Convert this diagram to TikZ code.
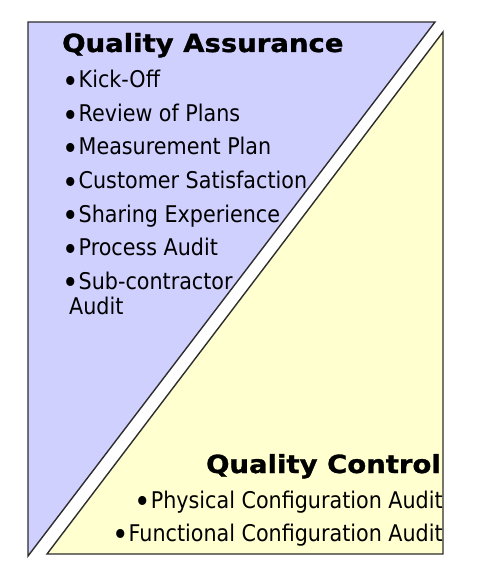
\documentclass[tikz,border=0pt]{standalone}
\usepackage{fontspec}
\setmainfont{DejaVu Sans Condensed}
\newfontfamily\headfont[FakeStretch=1.1,FakeBold=1.2]{DejaVu Sans Bold}
% enlarged bullet sitting at mid x-height, without extra depth
\newcommand\bul{\smash{\raisebox{-0.2em}{\scalebox{1.35}{•}}}}
\definecolor{qablue}{RGB}{208,208,255}
\definecolor{qcyellow}{RGB}{255,255,208}
\definecolor{edgegray}{RGB}{45,45,45}
\begin{document}
\begin{tikzpicture}[x=1pt,y=-1pt,
  panel/.style={draw=edgegray,line width=1.4pt,line join=miter},
  headtxt/.style={inner sep=0pt,font=\headfont\fontsize{25}{25}\selectfont},
  itemtxt/.style={inner sep=0pt,font=\fontsize{23}{23}\selectfont}]
\useasboundingbox (0,0) rectangle (482,585);
% two triangular panels separated by a diagonal gap
\filldraw[panel,fill=qablue] (28,22) -- (435,22) -- (28,556) -- cycle;
\filldraw[panel,fill=qcyellow] (443,32) -- (443,554) -- (47,554) -- cycle;
% upper panel: quality assurance
\node[headtxt,anchor=base west] (qa) at (62,52) {Quality Assurance};
\node[itemtxt,anchor=base west] (i1) at (62,88) {\bul Kick-Off};
\node[itemtxt,anchor=base west] (i2) at (62,121.5) {\bul Review of Plans};
\node[itemtxt,anchor=base west] (i3) at (62,155) {\bul Measurement Plan};
\node[itemtxt,anchor=base west] (i4) at (62,188.5) {\bul Customer Satisfaction};
\node[itemtxt,anchor=base west] (i5) at (62,222) {\bul Sharing Experience};
\node[itemtxt,anchor=base west] (i6) at (62,255.5) {\bul Process Audit};
\node[itemtxt,anchor=base west] (i7) at (62,289) {\bul Sub-contractor};
\node[itemtxt,anchor=base west] (i7b) at (69,314) {Audit};
% lower panel: quality control
\node[headtxt,anchor=base east] (qc) at (441,473) {Quality Control};
\node[itemtxt,anchor=base east] (c1) at (443,508) {\bul Physical Configuration Audit};
\node[itemtxt,anchor=base east] (c2) at (443,541) {\bul Functional Configuration Audit};
\end{tikzpicture}
\end{document}
